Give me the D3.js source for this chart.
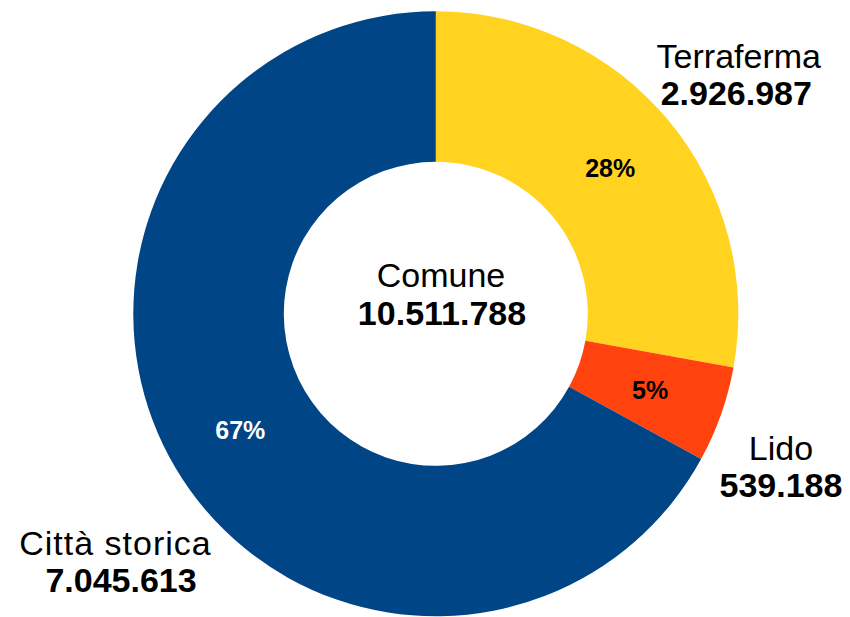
<!DOCTYPE html>
<html>
<head>
<meta charset="utf-8">
<script src="https://cdn.jsdelivr.net/npm/d3@7"></script>
<style>
  html, body { margin: 0; padding: 0; background: #ffffff; }
  svg { display: block; }
  text { font-family: "Liberation Sans", Arial, sans-serif; }
</style>
</head>
<body>
<svg id="chart" width="850" height="617"></svg>
<script>
// ---- data ----
const categories = ["Terraferma", "Lido", "Città storica"];
const values = [2926987, 539188, 7045613];
const colors = ["#FFD320", "#FF420E", "#004586"];
const pctColors = ["#000000", "#000000", "#ffffff"];
const totalLabel = "Comune";

// ---- layout ----
const W = 850, H = 617;
const cx = 435.8, cy = 313.8;
const outerR = 302.5, innerR = 152;
// outside label anchors relative to the centre: [dxName, dyName, dxValue, dyValue]
const labelOffsets = [
  [303, -245.8, 300.5, -208.8],
  [345.2, 146.2, 345.2, 183.2],
  [-320.3, 241.2, -314.8, 278.2]
];

const fmt = v => d3.format(",")(v).replace(/,/g, ".");
const total = d3.sum(values);

const svg = d3.select("#chart");
const g = svg.append("g").attr("transform", `translate(${cx},${cy})`);

const pie = d3.pie().sort(null).value(d => d.value);
const arcs = pie(categories.map((c, i) => ({ name: c, value: values[i], i })));
const arc = d3.arc().innerRadius(innerR).outerRadius(outerR);

g.selectAll("path.slice")
  .data(arcs)
  .join("path")
  .attr("class", "slice")
  .attr("d", arc)
  .attr("fill", d => colors[d.data.i]);

// percentage labels
g.selectAll("text.pct")
  .data(arcs)
  .join("text")
  .attr("class", "pct")
  .attr("transform", d => `translate(${arc.centroid(d)})`)
  .attr("text-anchor", "middle")
  .attr("dy", "0.37em")
  .attr("font-size", 25)
  .attr("font-weight", "bold")
  .attr("fill", d => pctColors[d.data.i])
  .text(d => Math.round(d.data.value / total * 100) + "%");

// outside labels
const lab = g.selectAll("g.lab")
  .data(arcs)
  .join("g")
  .attr("class", "lab");

lab.append("text")
  .attr("x", d => labelOffsets[d.data.i][0])
  .attr("y", d => labelOffsets[d.data.i][1])
  .attr("text-anchor", "middle")
  .attr("font-size", 34)
  .attr("letter-spacing", d => d.data.i === 2 ? "1px" : null)
  .attr("fill", "#000")
  .text(d => d.data.name);

lab.append("text")
  .attr("x", d => labelOffsets[d.data.i][2])
  .attr("y", d => labelOffsets[d.data.i][3])
  .attr("text-anchor", "middle")
  .attr("font-size", 34)
  .attr("font-weight", "bold")
  .attr("fill", "#000")
  .text(d => fmt(d.data.value));

// centre label
g.append("text")
  .attr("x", 5.2).attr("y", -26.8)
  .attr("text-anchor", "middle")
  .attr("font-size", 34)
  .attr("fill", "#000")
  .text(totalLabel);
g.append("text")
  .attr("x", 6.2).attr("y", 11.2)
  .attr("text-anchor", "middle")
  .attr("font-size", 34)
  .attr("font-weight", "bold")
  .attr("fill", "#000")
  .text(fmt(total));
</script>
</body>
</html>
